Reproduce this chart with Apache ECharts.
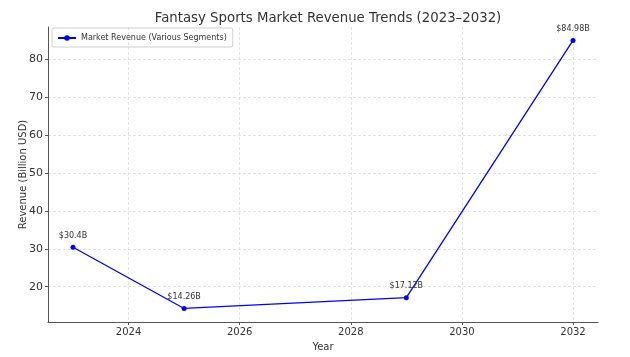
<!DOCTYPE html>
<html><head><meta charset="utf-8">
<script src="https://cdn.jsdelivr.net/npm/echarts@6/dist/echarts.min.js"></script>
<style>html,body{margin:0;padding:0;background:#fff}#c{width:630px;height:357px}</style>
</head><body><div id="c"></div>
<script>
const years = [2023, 2025, 2029, 2032];
const revenue = [30.4, 14.26, 17.12, 84.98];
const xTicks = [2024, 2026, 2028, 2030, 2032];
const yTicks = [20, 30, 40, 50, 60, 70, 80];
const seriesName = 'Market Revenue (Various Segments)';

const F = 'DejaVu Sans';
const chart = echarts.init(document.getElementById('c'), null, {renderer: 'canvas'});
chart.setOption({
  animation: false,
  backgroundColor: '#fff',
  textStyle: {fontFamily: F},
  title: {
    text: 'Fantasy Sports Market Revenue Trends (2023–2032)',
    left: 323, top: 7, textAlign: 'center',
    textStyle: {fontFamily: F, fontSize: 13.3, fontWeight: 'normal', color: '#333'}
  },
  legend: {
    left: 52, top: 28,
    padding: [6, 6, 5, 5],
    borderColor: '#d0d0d0', borderWidth: 1, borderRadius: 2,
    itemWidth: 18, itemHeight: 7, itemGap: 4,
    textStyle: {fontFamily: F, fontSize: 8, color: '#333'},
    data: [seriesName]
  },
  grid: {left: 48, right: 32, top: 27, bottom: 32, containLabel: false},
  xAxis: {
    type: 'value', min: 2022.55, max: 2032.45,
    name: 'Year', nameLocation: 'middle', nameGap: 20, nameMoveOverlap: false,
    nameTextStyle: {fontFamily: F, fontSize: 10, color: '#333'},
    axisLine: {show: true, onZero: false, lineStyle: {color: '#555', width: 1}},
    axisTick: {show: true, length: 3, customValues: xTicks, lineStyle: {color: '#555'}},
    axisLabel: {customValues: xTicks, formatter: v => String(v), fontFamily: F, fontSize: 10, color: '#333', margin: 5},
    splitLine: {show: true, lineStyle: {color: '#ddd', type: [3, 2], width: 0.8}}
  },
  yAxis: {
    type: 'value', min: 10.69, max: 88.52,
    name: 'Revenue (Billion USD)', nameLocation: 'middle', nameGap: 20, nameMoveOverlap: false,
    nameTextStyle: {fontFamily: F, fontSize: 10, color: '#333'},
    axisLine: {show: true, lineStyle: {color: '#555', width: 1}},
    axisTick: {show: true, length: 3, customValues: yTicks, lineStyle: {color: '#555'}},
    axisLabel: {customValues: yTicks, formatter: v => String(v), fontFamily: F, fontSize: 11, color: '#333', margin: 5},
    splitLine: {show: true, lineStyle: {color: '#ddd', type: [3, 2], width: 0.8}}
  },
  series: [{
    name: seriesName,
    type: 'line',
    data: years.map((y, i) => [y, revenue[i]]),
    color: '#0000ff',
    lineStyle: {color: '#0000ff', width: 1.3},
    symbol: 'circle', symbolSize: 5,
    itemStyle: {color: '#0000ff'},
    label: {
      show: true, position: 'top', distance: 5,
      fontFamily: F, fontSize: 8, color: '#333',
      formatter: p => '$' + p.value[1] + 'B'
    }
  }]
});
</script></body></html>
